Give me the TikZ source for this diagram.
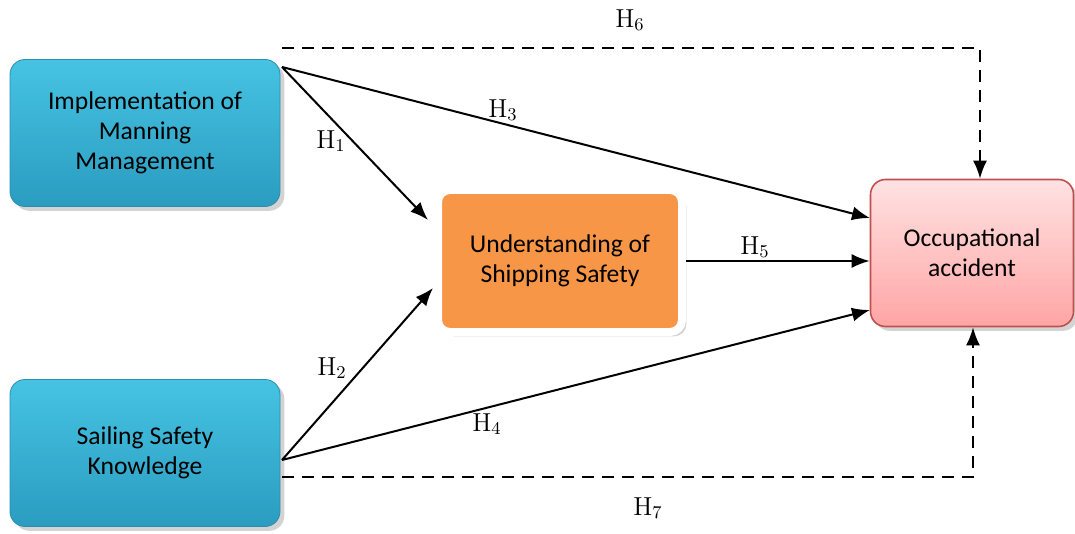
\documentclass[tikz,border=0pt]{standalone}
\usepackage{fontspec}
\newfontfamily\boxfont{Carlito}
\usetikzlibrary{arrows.meta,shadows}

\definecolor{blueTop}{HTML}{46C3E3}
\definecolor{blueBot}{HTML}{2A9CC0}
\definecolor{blueLine}{HTML}{2B8DB0}
\definecolor{orangeFill}{HTML}{F79646}
\definecolor{pinkTop}{HTML}{FFE2E2}
\definecolor{pinkBot}{HTML}{FFA5A5}
\definecolor{pinkLine}{HTML}{C0504D}

\begin{document}
\begin{tikzpicture}[x=0.5pt, y=-0.5pt,
	box/.style={rounded corners=7.5pt, align=center, font=\boxfont\fontsize{12.8}{15}\selectfont},
	bluebox/.style={box, minimum width=135pt, minimum height=73.5pt, top color=blueTop, bottom color=blueBot, draw=blueLine, line width=0.4pt, drop shadow={opacity=0.35}},
	midbox/.style={box, rounded corners=6pt, minimum width=122pt, minimum height=71pt, fill=orangeFill, draw=white, line width=4pt, drop shadow={opacity=0.35}},
	outbox/.style={box, minimum width=101.5pt, minimum height=73.5pt, top color=pinkTop, bottom color=pinkBot, draw=pinkLine, line width=0.8pt, drop shadow={opacity=0.35}},
	conn/.style={-{Latex[length=9pt,width=7pt]}, line width=1pt},
	dconn/.style={conn, dash pattern=on 6pt off 4pt},
	hyp/.style={font=\fontsize{13}{15}\selectfont, inner sep=0pt}]
		\useasboundingbox (0,0) rectangle (1075,534);

		\node[bluebox] (imm) at (145,133) {Implementation of\\Manning\\Management};
		\node[bluebox] (ssk) at (145,453) {Sailing Safety\\Knowledge};
		\node[midbox] (uss) at (560,261) {Understanding of\\Shipping Safety};
		\node[outbox] (occ) at (972,253) {Occupational\\accident};

		\coordinate (immout) at (282,67);
		\coordinate (sskout) at (282,460);
		\coordinate (immtop) at (282,48);
		\coordinate (sskbot) at (282,477);
		\coordinate (topturn) at (980,48);
		\coordinate (botturn) at (973,477);

		\draw[conn] (immout) -- (428,220);
		\draw[conn] (immout) -- (870,218);
		\draw[conn] (sskout) -- (433,288);
		\draw[conn] (sskout) -- (870,310);
		\draw[conn] (uss.east) -- (uss.east -| occ.west);
		\draw[dconn] (immtop) -- (topturn) -- (occ.north -| topturn);
		\draw[dconn] (sskbot) -- (botturn) -- (occ.south -| botturn);

		\node[hyp] (h1) at (331,141) {H$_1$};
		\node[hyp] (h2) at (332,368) {H$_2$};
		\node[hyp] (h3) at (503,110) {H$_3$};
		\node[hyp] (h4) at (487,424) {H$_4$};
		\node[hyp] (h5) at (755,247) {H$_5$};
		\node[hyp] (h6) at (630,20) {H$_6$};
		\node[hyp] (h7) at (648,508) {H$_7$};
\end{tikzpicture}
\end{document}
